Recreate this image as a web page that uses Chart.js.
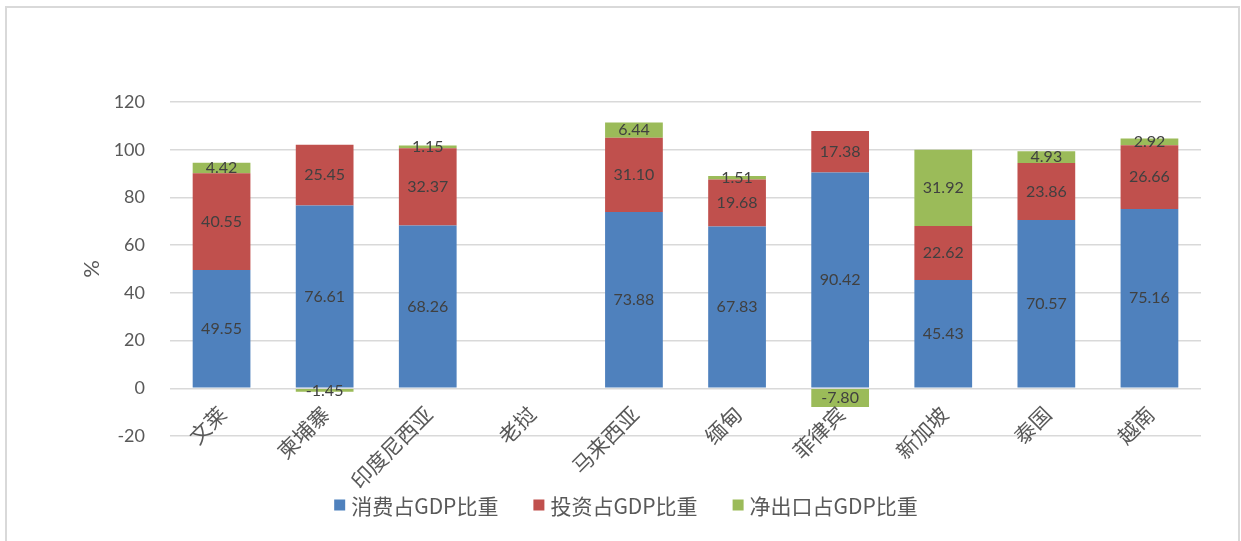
<!DOCTYPE html>
<html>
<head>
<meta charset="utf-8">
<script src="https://cdn.jsdelivr.net/npm/chart.js@4/dist/chart.umd.min.js"></script>
<style>
  html, body { margin: 0; padding: 0; background: #fff; }
  #wrap { position: relative; width: 1241px; height: 541px; overflow: hidden; }
  #frame {
    position: absolute; left: 5px; top: 6px; width: 1231px; height: 560px;
    border: 2px solid #d9d9d9; border-bottom: none; pointer-events: none;
  }
  canvas { position: absolute; left: 0; top: 0; }
</style>
</head>
<body>
<div id="wrap">
  <canvas id="gdpChart" width="1241" height="541"></canvas>
  <div id="frame"></div>
</div>
<script>
// categories + series (GDP shares, %)
const countries = ['文莱', '柬埔寨', '印度尼西亚', '老挝', '马来西亚', '缅甸', '菲律宾', '新加坡', '泰国', '越南'];
const consumption = [49.55, 76.61, 68.26, null, 73.88, 67.83, 90.42, 45.43, 70.57, 75.16];
const investment  = [40.55, 25.45, 32.37, null, 31.10, 19.68, 17.38, 22.62, 23.86, 26.66];
const netExports  = [4.42, -1.45, 1.15, null, 6.44, 1.51, -7.80, 31.92, 4.93, 2.92];
const seriesNames = ['消费占GDP比重', '投资占GDP比重', '净出口占GDP比重'];
const yMin = -20, yMax = 120, yStep = 20;

const colors = ['#4f81bd', '#c0504d', '#9bbb59'];
const latin = 'Lato, "Noto Sans", sans-serif';
const cjk = '"Noto Sans CJK SC", sans-serif';

// value labels centred in each segment
const segmentLabels = {
  id: 'segmentLabels',
  afterDatasetsDraw(chart) {
    const ctx = chart.ctx;
    ctx.save();
    ctx.font = '16px ' + latin;
    ctx.fillStyle = '#404040';
    ctx.textAlign = 'center';
    ctx.textBaseline = 'middle';
    chart.data.datasets.forEach((ds, di) => {
      const meta = chart.getDatasetMeta(di);
      meta.data.forEach((bar, i) => {
        const v = ds.data[i];
        if (v === null || v === undefined) return;
        const p = bar.getProps(['x', 'y', 'base'], true);
        ctx.fillText(v.toFixed(2), p.x, (p.y + p.base) / 2);
      });
    });
    ctx.restore();
  }
};

// rotated category labels hanging from the zero line
const categoryLabels = {
  id: 'categoryLabels',
  afterDraw(chart) {
    const ctx = chart.ctx;
    const xs = chart.scales.x, ys = chart.scales.y;
    const y0 = ys.getPixelForValue(0);
    ctx.save();
    ctx.font = '21px ' + cjk;
    ctx.fillStyle = '#595959';
    ctx.textAlign = 'right';
    ctx.textBaseline = 'middle';
    chart.data.labels.forEach((lab, i) => {
      const x = xs.getPixelForValue(i);
      ctx.save();
      ctx.translate(x + 1, y0 + 22);
      ctx.rotate(-Math.PI / 4);
      ctx.fillText(lab, 0, 0);
      ctx.restore();
    });
    ctx.restore();
  }
};

// legend row under the plot
const bottomLegend = {
  id: 'bottomLegend',
  afterDraw(chart) {
    const ctx = chart.ctx;
    ctx.save();
    ctx.font = '21px ' + cjk;
    ctx.textBaseline = 'middle';
    const box = 11, gap = 6, spacing = 35;
    const items = chart.data.datasets.map(ds => ({
      label: ds.label, color: ds.backgroundColor, w: ctx.measureText(ds.label).width
    }));
    const total = items.reduce((s, it) => s + box + gap + it.w, 0) + spacing * (items.length - 1);
    let x = 626 - total / 2;
    const y = 505;
    items.forEach(it => {
      ctx.fillStyle = it.color;
      ctx.fillRect(x, y - box / 2, box, box);
      ctx.fillStyle = '#595959';
      ctx.fillText(it.label, x + box + gap, y + 1);
      x += box + gap + it.w + spacing;
    });
    ctx.restore();
  }
};

new Chart(document.getElementById('gdpChart'), {
  type: 'bar',
  data: {
    labels: countries,
    datasets: [
      { label: seriesNames[0], data: consumption, backgroundColor: colors[0] },
      { label: seriesNames[1], data: investment, backgroundColor: colors[1] },
      { label: seriesNames[2], data: netExports, backgroundColor: colors[2] }
    ]
  },
  options: {
    responsive: false,
    animation: false,
    layout: { padding: { left: 75, right: 40, top: 102, bottom: 105 } },
    datasets: { bar: { categoryPercentage: 0.56, barPercentage: 1, borderWidth: 0 } },
    plugins: { legend: { display: false }, tooltip: { enabled: false } },
    scales: {
      x: {
        stacked: true,
        display: false
      },
      y: {
        stacked: true,
        min: yMin,
        max: yMax,
        afterFit(s) { s.width = 95; },
        ticks: { stepSize: yStep, padding: 25, color: '#595959', font: { family: latin, size: 18 } },
        grid: { color: '#d9d9d9', lineWidth: 1.5, drawTicks: false },
        border: { display: false },
        title: { display: true, text: '%', color: '#595959', font: { family: latin, size: 22 } }
      }
    }
  },
  plugins: [segmentLabels, categoryLabels, bottomLegend]
});
</script>
</body>
</html>
